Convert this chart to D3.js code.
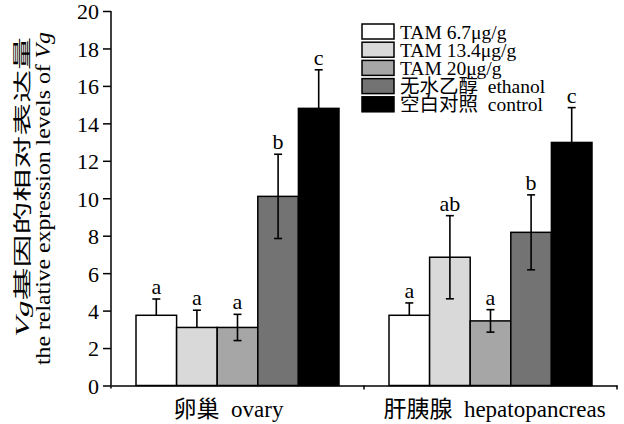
<!DOCTYPE html>
<html>
<head>
<meta charset="utf-8">
<script src="https://cdn.jsdelivr.net/npm/d3@7"></script>
<style>
body{margin:0;background:#fff;}
text{font-family:"Liberation Serif","Noto Sans CJK SC",serif;fill:#000;}
</style>
</head>
<body>
<svg id="svgID" width="624" height="424"></svg>
<script>
// data
var groups=["卵巢  ovary","肝胰腺  hepatopancreas"];
var series=["TAM 6.7μg/g","TAM 13.4μg/g","TAM 20μg/g","无水乙醇  ethanol","空白对照  control"];
var colors=["#ffffff","#d9d9d9","#a6a6a6","#737373","#000000"];
var means=[
    [3.75,3.1,3.1,10.1,14.8],
    [3.75,6.85,3.45,8.18,12.98]
];
var errs=[
    [0.87,0.92,0.7,2.25,2.06],
    [0.66,2.22,0.6,2.0,1.86]
];
// lower half of the error bar visible?
var lowerShown=[
    [false,false,true,true,false],
    [false,true,true,true,false]
];
var letters=[
    ["a","a","a","b","c"],
    ["a","ab","a","b","c"]
];
var yTicks=[0,2,4,6,8,10,12,14,16,18,20];

var svg=d3.select("#svgID");
var pLeft=111, pRight=617, pBottom=385.5, pTop=11;

var x=d3.scaleBand().domain(groups).range([pLeft,pRight]);
var xi=d3.scaleBand().domain(series).range([25,x.bandwidth()-25]);
var y=d3.scaleLinear().domain([0,20]).range([pBottom,pTop]);

//Axes
var yAxis=svg.append("g")
    .attr("transform","translate("+pLeft+",0)")
    .call(d3.axisLeft(y).tickValues(yTicks).tickSizeOuter(0).tickSize(8).tickPadding(4));
yAxis.select(".domain").attr("d","M0,"+pTop+"V"+(pBottom+3));
yAxis.selectAll("line").attr("stroke-width",1.5);
yAxis.select(".domain").attr("stroke-width",1.5);
yAxis.selectAll("text").style("font-size","22px").attr("dy","0.36em");

var xAxis=svg.append("g")
    .attr("transform","translate(0,"+pBottom+")")
    .call(d3.axisBottom(x).tickSize(0).tickSizeOuter(0));
xAxis.select(".domain").attr("stroke-width",1.5);
xAxis.selectAll("text").style("font-size","23px").attr("xml:space","preserve")
    .attr("y",31).attr("dy",0)
    .attr("dx",function(d,i){return i==0?-9:4;});
// small ticks between groups and at the end
svg.selectAll(".xt").data([x(groups[1]),pRight]).enter().append("line")
    .attr("x1",function(d){return d;}).attr("x2",function(d){return d;})
    .attr("y1",pBottom).attr("y2",pBottom+4)
    .attr("stroke","#000").attr("stroke-width",1.5);

//Bars and error bars
groups.forEach(function(g,gi){
    var gx=x(g);
    series.forEach(function(s,si){
        var bx=gx+xi(s), cx=bx+xi.bandwidth()/2;
        var m=means[gi][si], e=errs[gi][si];
        svg.append("rect")
            .attr("x",bx).attr("y",y(m))
            .attr("width",xi.bandwidth()).attr("height",y(0)-y(m))
            .attr("fill",colors[si]).attr("stroke","#000").attr("stroke-width",1.5);
        var lo=lowerShown[gi][si]?m-e:m;
        var eg=svg.append("g").attr("stroke","#000").attr("stroke-width",1.6);
        eg.append("line").attr("x1",cx).attr("x2",cx).attr("y1",y(m+e)).attr("y2",y(lo));
        eg.append("line").attr("x1",cx-4).attr("x2",cx+4).attr("y1",y(m+e)).attr("y2",y(m+e));
        if(lowerShown[gi][si]){
            eg.append("line").attr("x1",cx-4).attr("x2",cx+4).attr("y1",y(lo)).attr("y2",y(lo));
        }
        svg.append("text")
            .attr("x",cx).attr("y",y(m+e)-5)
            .attr("text-anchor","middle")
            .style("font-size","22px")
            .text(letters[gi][si]);
    });
});

//Legend
var leg=svg.append("g").attr("transform","translate(362,24)");
series.forEach(function(s,i){
    var row=leg.append("g").attr("transform","translate(0,"+(i*18.2)+")");
    row.append("rect").attr("width",32).attr("height",15)
        .attr("fill",colors[i]).attr("stroke","#000").attr("stroke-width",1.5);
    row.append("text").attr("x",38).attr("y",14.5)
        .attr("xml:space","preserve")
        .style("font-size","19.5px").text(s);
});

//Y label (two rotated lines, start anchored at the bottom)
var yl=svg.append("text")
    .attr("transform","translate(29,337) rotate(-90)")
    .attr("textLength",300).attr("lengthAdjust","spacingAndGlyphs")
    .style("font-size","18px");
yl.append("tspan").style("font-style","italic").text("Vg");
yl.append("tspan").text("基因的相对表达量");
var yl2=svg.append("text")
    .attr("transform","translate(50,365) rotate(-90)")
    .attr("textLength",333).attr("lengthAdjust","spacingAndGlyphs")
    .style("font-size","20px");
yl2.append("tspan").text("the relative expression levels of ");
yl2.append("tspan").style("font-style","italic").text("Vg");
</script>
</body>
</html>
